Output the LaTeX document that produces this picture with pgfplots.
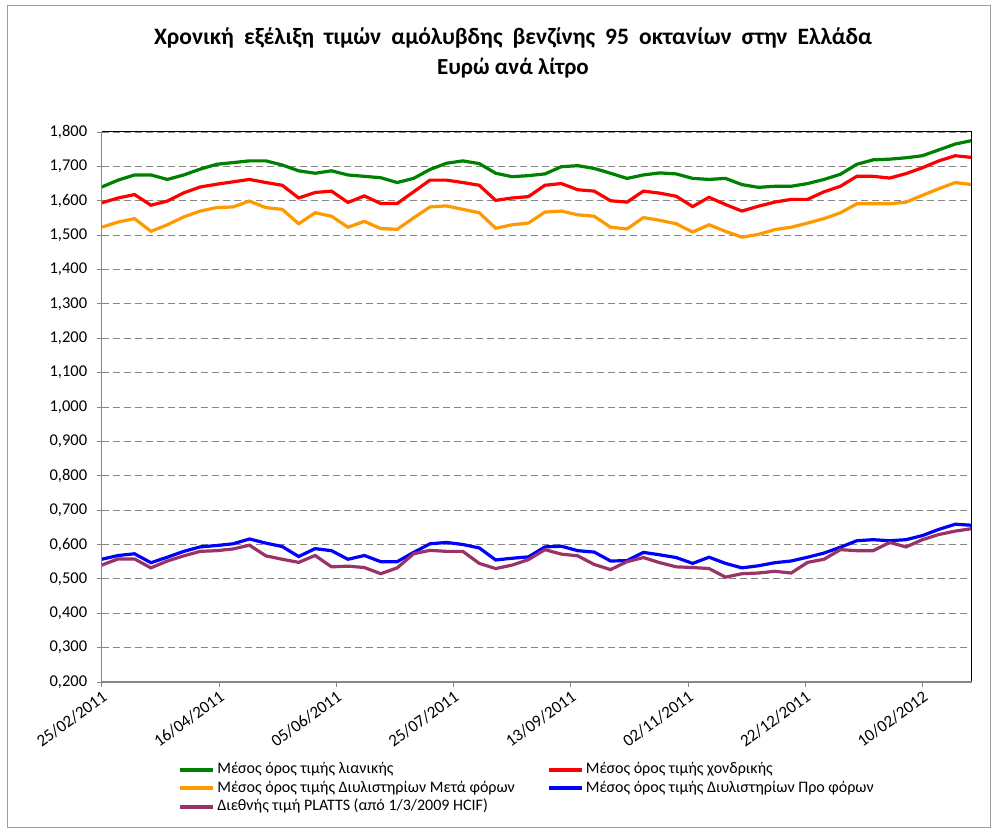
\documentclass[border=0pt]{standalone}
\usepackage{fontspec}
\setmainfont{Carlito}
\newfontfamily\spacedfont[WordSpace=1.9]{Carlito}
\usepackage{pgfplots}
\usepackage{pgfplotstable}
\pgfplotsset{compat=1.18}

\definecolor{retail}{HTML}{008000}
\definecolor{wholesale}{HTML}{FF0000}
\definecolor{refafter}{HTML}{FF9900}
\definecolor{refbefore}{HTML}{0000FF}
\definecolor{platts}{HTML}{993366}
\definecolor{gridgray}{HTML}{868686}

% weekly prices, d = days since 25/02/2011
\pgfplotstableread{
d   g     r     o     b     p
0   1.640 1.594 1.523 0.557 0.540
7   1.660 1.608 1.538 0.568 0.558
14  1.675 1.618 1.548 0.573 0.558
21  1.675 1.587 1.511 0.547 0.532
28  1.662 1.599 1.530 0.563 0.552
35  1.675 1.623 1.553 0.580 0.567
42  1.692 1.640 1.570 0.593 0.580
49  1.706 1.648 1.580 0.597 0.582
56  1.711 1.655 1.582 0.602 0.587
63  1.716 1.662 1.599 0.616 0.598
70  1.716 1.653 1.580 0.604 0.567
77  1.704 1.645 1.575 0.594 0.557
84  1.687 1.608 1.533 0.565 0.548
91  1.680 1.624 1.565 0.588 0.568
98  1.687 1.628 1.555 0.582 0.535
105 1.675 1.595 1.523 0.557 0.537
112 1.671 1.614 1.540 0.568 0.533
119 1.667 1.592 1.519 0.550 0.515
126 1.653 1.592 1.517 0.550 0.532
133 1.665 1.626 1.550 0.577 0.573
140 1.691 1.660 1.582 0.602 0.583
147 1.709 1.660 1.585 0.606 0.580
154 1.716 1.653 1.575 0.600 0.580
161 1.708 1.645 1.565 0.590 0.545
168 1.680 1.601 1.520 0.555 0.530
175 1.670 1.608 1.530 0.560 0.540
182 1.673 1.612 1.535 0.564 0.556
189 1.678 1.645 1.567 0.593 0.585
196 1.699 1.650 1.570 0.595 0.572
203 1.702 1.632 1.559 0.582 0.567
210 1.694 1.628 1.555 0.578 0.542
217 1.680 1.600 1.523 0.552 0.527
224 1.665 1.596 1.518 0.553 0.550
231 1.675 1.628 1.551 0.577 0.562
238 1.681 1.622 1.543 0.570 0.547
245 1.678 1.613 1.533 0.562 0.535
252 1.665 1.583 1.509 0.545 0.533
259 1.662 1.610 1.530 0.563 0.530
266 1.665 1.589 1.511 0.545 0.505
273 1.647 1.570 1.494 0.532 0.515
280 1.639 1.584 1.502 0.538 0.517
287 1.642 1.596 1.516 0.547 0.522
294 1.642 1.604 1.523 0.552 0.517
301 1.650 1.604 1.535 0.563 0.548
308 1.662 1.626 1.548 0.575 0.557
315 1.677 1.642 1.565 0.592 0.585
322 1.706 1.671 1.591 0.611 0.582
329 1.719 1.671 1.591 0.614 0.582
336 1.721 1.666 1.591 0.611 0.606
343 1.725 1.679 1.596 0.614 0.593
350 1.731 1.696 1.616 0.626 0.614
357 1.748 1.716 1.635 0.644 0.629
364 1.765 1.731 1.653 0.659 0.639
371 1.775 1.726 1.647 0.656 0.646
}\prices

\begin{document}
\begin{tikzpicture}
\path[use as bounding box] (-101.7pt,-152pt) rectangle (894.3pt,682pt);
\begin{axis}[
    at={(0,0)}, anchor=south west,
    scale only axis,
    width=870pt, height=550pt,
    xmin=0, xmax=371,
    ymin=0.2, ymax=1.8,
    xtick={0,50,100,150,200,250,300,350},
    xticklabels={25/02/2011,16/04/2011,05/06/2011,25/07/2011,13/09/2011,02/11/2011,22/12/2011,10/02/2012},
    ytick={0.2,0.3,0.4,0.5,0.6,0.7,0.8,0.9,1.0,1.1,1.2,1.3,1.4,1.5,1.6,1.7,1.8},
    /pgf/number format/assume math mode=true,
    yticklabel style={xshift=-6pt, font=\fontsize{16.5}{19}\selectfont,
        /pgf/number format/fixed, /pgf/number format/fixed zerofill,
        /pgf/number format/precision=3, /pgf/number format/use comma, /pgf/number format/1000 sep={}},
    xticklabel style={rotate=36, anchor=north east, inner sep=2pt, font=\fontsize{17}{20}\selectfont},
    axis line style={draw=none},
    tick pos=left,
    tick align=outside,
    major tick length=5pt,
    major tick style={gridgray, line width=0.8pt},
    ymajorgrids=true,
    major grid style={gridgray, line width=0.9pt, dash pattern=on 7pt off 4pt},
    legend columns=2,
    legend cell align=left,
    legend style={at={(axis description cs:0.088,-0.142)}, anchor=north west,
        draw=none, fill=none, inner sep=0pt,
        font=\fontsize{16}{18}\selectfont,
        nodes={inner sep=2pt, text height=11.5pt, text depth=3pt},
        /tikz/every even column/.append style={column sep=30pt}},
    legend image code/.code={\draw[#1, line width=4pt] (0pt,0pt) -- (33pt,0pt);},
]
\addplot[retail, line width=3.2pt] table[x=d, y=g] {\prices};
\addplot[wholesale, line width=3.2pt] table[x=d, y=r] {\prices};
\addplot[refafter, line width=3.2pt] table[x=d, y=o] {\prices};
\addplot[refbefore, line width=3.2pt] table[x=d, y=b] {\prices};
\addplot[platts, line width=3.2pt] table[x=d, y=p] {\prices};
\legend{Μέσος όρος τιμής λιανικής, Μέσος όρος τιμής χονδρικής,
    Μέσος όρος τιμής Διυλιστηρίων Μετά φόρων, Μέσος όρος τιμής Διυλιστηρίων Προ φόρων,
    Διεθνής τιμή PLATTS (από 1/3/2009 HCIF)}
\end{axis}
% plot area border
\draw[black, line width=1pt] (0pt,550pt) -- (870pt,550pt) -- (870pt,0pt);
\draw[gridgray, line width=1.5pt] (0pt,550pt) -- (0pt,0pt) -- (870pt,0pt);
% chart frame
\draw[gridgray!80, line width=1pt] (-93.7pt,-146pt) rectangle (888.3pt,676pt);
\node[font=\spacedfont\bfseries\fontsize{23.5}{27}\selectfont] at (411.3pt,644pt)
    {Χρονική εξέλιξη τιμών αμόλυβδης βενζίνης 95 οκτανίων στην Ελλάδα};
\node[font=\bfseries\fontsize{23}{27}\selectfont] at (411.3pt,614pt) {Ευρώ ανά λίτρο};
\end{tikzpicture}
\end{document}
